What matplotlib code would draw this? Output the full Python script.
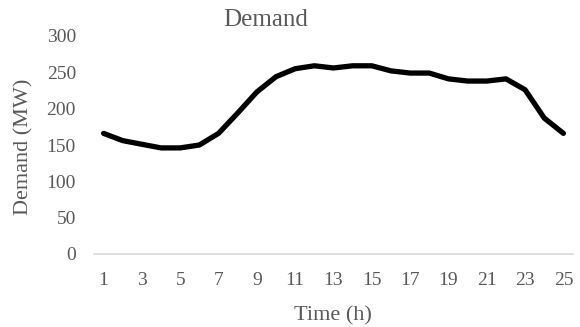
import numpy as np
import matplotlib.pyplot as plt

hours = list(range(1, 26))
demand = [166, 156, 151, 146, 146, 150, 166, 194, 223, 244, 255, 259, 256,
          259, 259, 252, 249, 249, 241, 238, 238, 241, 226, 187, 166]
xticks = list(range(1, 26, 2))
yticks = list(range(0, 301, 50))

plt.rcParams['font.family'] = ['Liberation Serif', 'DejaVu Serif']
grey = '#595959'
W, H = 580, 327

fig = plt.figure(figsize=(W / 100, H / 100), dpi=100)
# plot area: x 94..573 px, y 36..254 px
ax = fig.add_axes([94 / W, 1 - 254 / H, (573 - 94) / W, (254 - 36) / H])

ax.plot(hours, demand, color='black', lw=3.8, solid_capstyle='round', solid_joinstyle='round')

ax.set_xlim(0.5, 25.5)
ax.set_ylim(0, 300)
ax.set_xticks(xticks)
ax.set_yticks(yticks)
ax.tick_params(axis='both', length=0, labelsize=14, labelcolor=grey)
ax.tick_params(axis='y', pad=13)
ax.tick_params(axis='x', pad=13)

for s in ['top', 'right', 'left']:
    ax.spines[s].set_visible(False)
ax.spines['bottom'].set_color('#D9D9D9')
ax.spines['bottom'].set_linewidth(1.2)

fig.text(266 / W, 1 - 26 / H, 'Demand', fontsize=18, color=grey, ha='center', va='baseline')
fig.text(333 / W, 1 - 320 / H, 'Time (h)', fontsize=16, color=grey, ha='center', va='baseline')
fig.text(24 / W, 1 - 147 / H, 'Demand (MW)', fontsize=16, color=grey, rotation=90,
         ha='center', va='center')

fig.savefig('out.png', dpi=100)
